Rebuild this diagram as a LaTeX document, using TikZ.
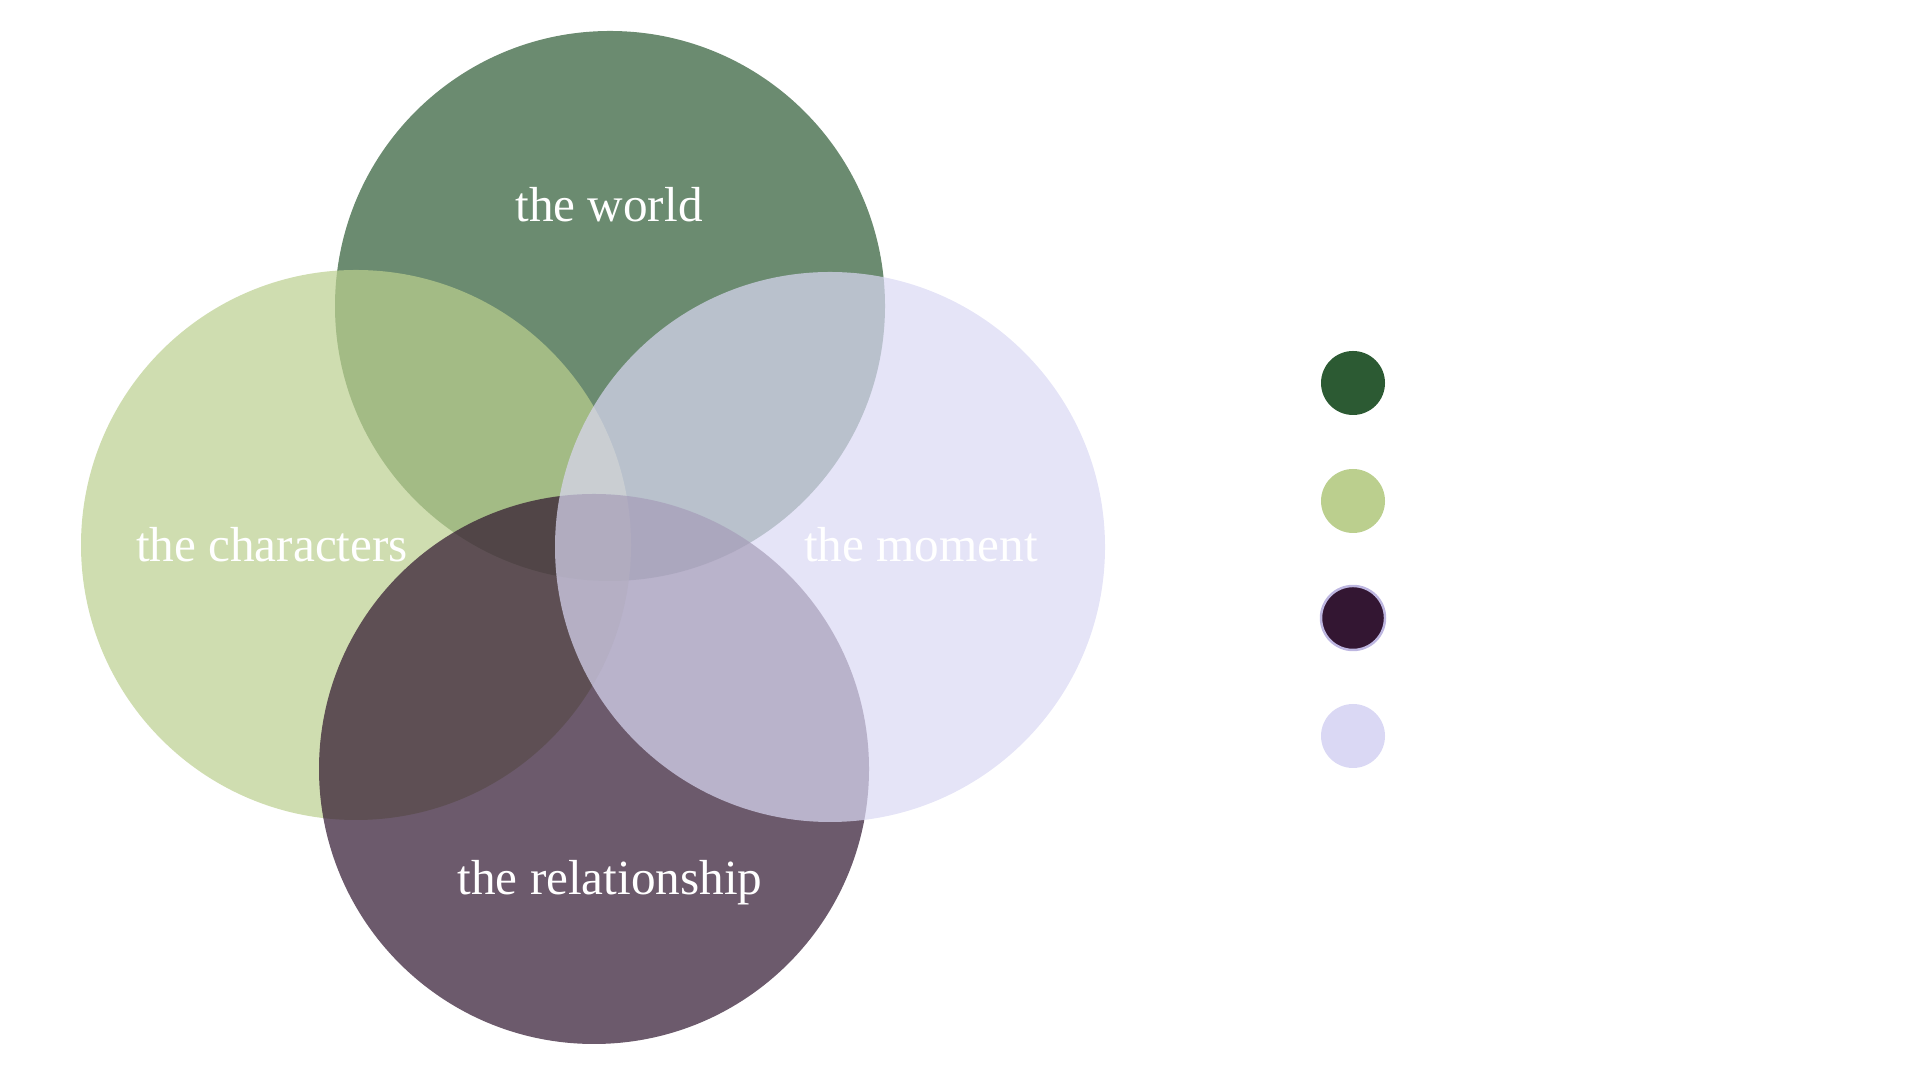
\documentclass[tikz,border=0pt]{standalone}
\usepackage{fontspec}
\setmainfont{Liberation Serif}
\usetikzlibrary{positioning}
\definecolor{worldgreen}{HTML}{2C5A33}
\definecolor{charactergreen}{HTML}{BBCF8E}
\definecolor{relationplum}{HTML}{331632}
\definecolor{momentlilac}{HTML}{DAD8F4}
\definecolor{dotedge}{HTML}{BDB6E0}
\tikzset{
  venn/.style={circle, minimum size=5.5cm, inner sep=0pt, fill opacity=0.7},
  vennlabel/.style={anchor=base, text=white, font=\fontsize{14}{16}\selectfont},
  keydot/.style={circle, minimum size=0.64cm, inner sep=0pt}
}

\begin{document}
\begin{tikzpicture}
    \useasboundingbox (0,0) rectangle (19.2,10.8);
    % circles, back to front
    \node[venn, fill=worldgreen] (world) at (6.10,7.74) {};
    \node[venn, fill=charactergreen] (characters) at (3.56,5.35) {};
    \node[venn, fill=relationplum!90!black] (relationship) at (5.94,3.11) {};
    \node[venn, fill=momentlilac] (moment) at (8.30,5.33) {};
    % labels
    \node[vennlabel] (worldtxt) at (6.09,8.58) {the world};
    \node[vennlabel] (charactertxt) at (2.72,5.18) {the characters};
    \node[vennlabel] (momenttxt) at (9.21,5.18) {the moment};
    \node[vennlabel] (relationtxt) at (6.10,1.85) {the relationship};
    % key
    \node[keydot, fill=worldgreen] (keyworld) at (13.53,6.97) {};
    \node[keydot, fill=charactergreen] (keycharacters) at (13.53,5.79) {};
    \node[keydot, fill=relationplum, draw=dotedge, line width=0.7pt] (keyrelation) at (13.53,4.62) {};
    \node[keydot, fill=momentlilac] (keymoment) at (13.53,3.44) {};
\end{tikzpicture}
\end{document}
